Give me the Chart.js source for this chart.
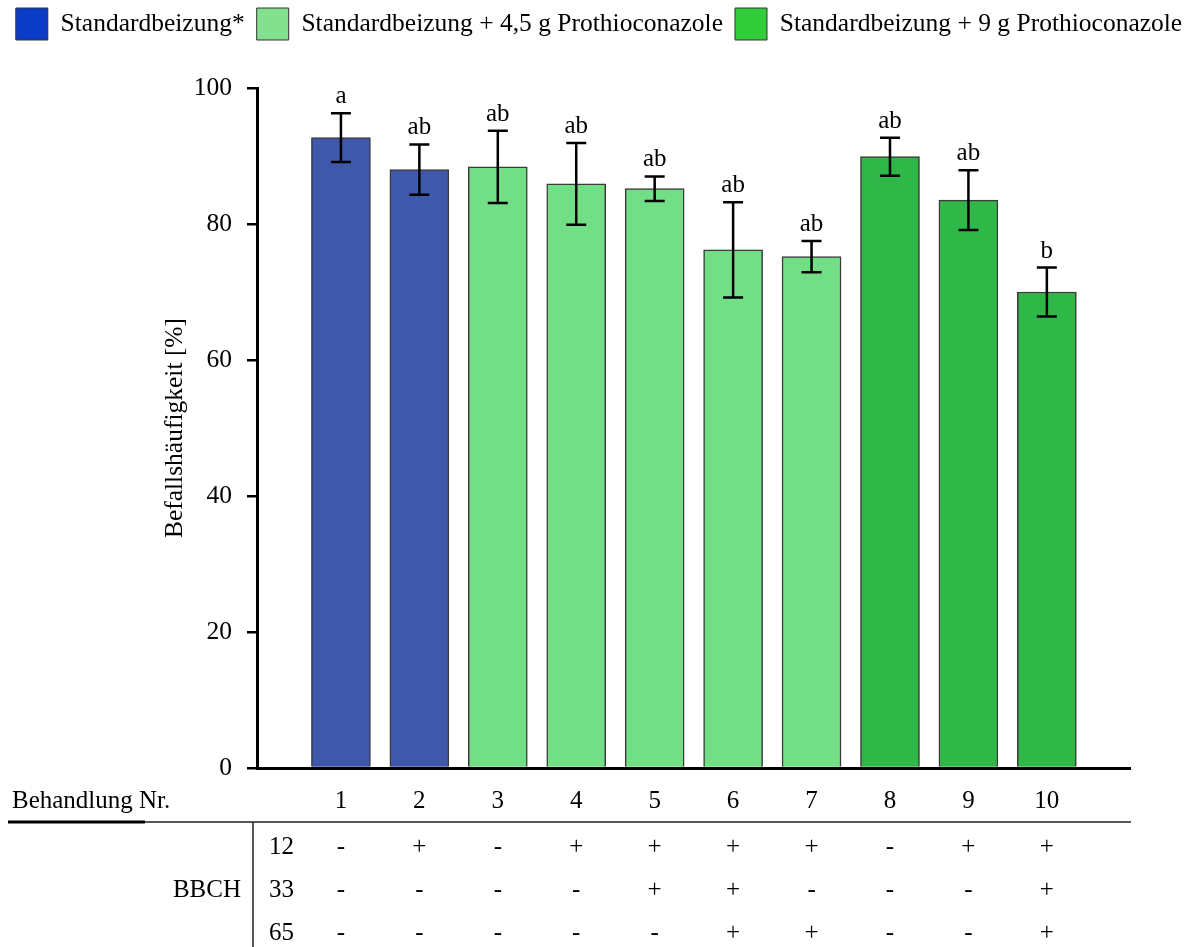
<!DOCTYPE html>
<html>
<head>
<meta charset="utf-8">
<script src="https://cdn.jsdelivr.net/npm/chart.js@4.4.0/dist/chart.umd.min.js"></script>
<style>
    html, body { margin: 0; padding: 0; background: #fff; }
    #wrap { width: 1198px; height: 947px; }
</style>
</head>
<body>
<div id="wrap"><canvas id="chart"></canvas></div>
<script>
// Data
const treatments = [1, 2, 3, 4, 5, 6, 7, 8, 9, 10];
const groupNames = ['Standardbeizung*', 'Standardbeizung + 4,5 g Prothioconazole', 'Standardbeizung + 9 g Prothioconazole'];
const groupOf = [0, 0, 1, 1, 1, 1, 1, 2, 2, 2];
const means = [92.7, 88.0, 88.4, 85.9, 85.2, 76.2, 75.2, 89.9, 83.5, 70.0];
const errors = [3.6, 3.7, 5.3, 6.0, 1.8, 7.0, 2.3, 2.8, 4.4, 3.6];
const letters = ['a', 'ab', 'ab', 'ab', 'ab', 'ab', 'ab', 'ab', 'ab', 'b'];
const yTicks = [0, 20, 40, 60, 80, 100];
const bbchStages = ['12', '33', '65'];
const bbch12 = ['-', '+', '-', '+', '+', '+', '+', '-', '+', '+'];
const bbch33 = ['-', '-', '-', '-', '+', '+', '-', '-', '-', '+'];
const bbch65 = ['-', '-', '-', '-', '-', '+', '+', '-', '-', '+'];
const bbchRows = [bbch12, bbch33, bbch65];

const barColors = ['#3f58aa', '#72de86', '#2fb848'];
const legendColors = ['#0a3cc8', '#82e08e', '#33cc3a'];
const FONT = "'Liberation Serif', 'Times New Roman', serif";

// error bars, letters and the treatment table underneath
const extrasPlugin = {
    id: 'extras',
    afterDatasetsDraw(chart) {
        const ctx = chart.ctx;
        const x = chart.scales.x;
        const y = chart.scales.y;
        ctx.save();
        ctx.strokeStyle = '#000';
        ctx.lineWidth = 2.5;
        ctx.fillStyle = '#000';
        ctx.font = '25px ' + FONT;
        ctx.textAlign = 'center';
        ctx.textBaseline = 'alphabetic';
        treatments.forEach((t, i) => {
            const px = x.getPixelForValue(t);
            const top = y.getPixelForValue(means[i] + errors[i]);
            const bot = y.getPixelForValue(means[i] - errors[i]);
            ctx.beginPath();
            ctx.moveTo(px, top); ctx.lineTo(px, bot);
            ctx.moveTo(px - 10, top); ctx.lineTo(px + 10, top);
            ctx.moveTo(px - 10, bot); ctx.lineTo(px + 10, bot);
            ctx.stroke();
            ctx.fillText(letters[i], px, top - 10);
        });
        ctx.restore();
    },
    afterDraw(chart) {
        const ctx = chart.ctx;
        const x = chart.scales.x;
        const tableRight = x.right + 1;
        ctx.save();
        ctx.fillStyle = '#000';
        ctx.font = '25px ' + FONT;
        ctx.textBaseline = 'middle';

        ctx.textAlign = 'left';
        ctx.fillText('Behandlung Nr.', 12, 801);
        ctx.textAlign = 'center';
        treatments.forEach(t => ctx.fillText(String(t), x.getPixelForValue(t), 801));

        // rules
        ctx.strokeStyle = '#222';
        ctx.lineWidth = 1.5;
        ctx.beginPath();
        ctx.moveTo(8, 822); ctx.lineTo(tableRight, 822);
        ctx.moveTo(253, 822); ctx.lineTo(253, 947);
        ctx.stroke();
        ctx.lineWidth = 3;
        ctx.strokeStyle = '#000';
        ctx.beginPath();
        ctx.moveTo(8, 822); ctx.lineTo(145, 822);
        ctx.stroke();

        const rowY = [847, 890, 933];
        ctx.textAlign = 'right';
        ctx.fillText('BBCH', 241, rowY[1]);
        bbchStages.forEach((s, r) => {
            ctx.textAlign = 'left';
            ctx.fillText(s, 269, rowY[r]);
            ctx.textAlign = 'center';
            bbchRows[r].forEach((sign, i) => {
                ctx.fillText(sign, x.getPixelForValue(treatments[i]), rowY[r]);
            });
        });
        ctx.restore();
    }
};

const datasets = groupNames.map((name, g) => ({
    label: name,
    data: treatments
        .map((t, i) => groupOf[i] === g ? { x: t, y: means[i] } : null)
        .filter(p => p !== null),
    backgroundColor: barColors[g],
    borderColor: '#3a3a3a',
    borderWidth: 1.5,
    barThickness: 59
}));

new Chart(document.getElementById('chart'), {
    type: 'bar',
    data: { datasets },
    plugins: [extrasPlugin],
    options: {
        responsive: true,
        maintainAspectRatio: false,
        animation: false,
        devicePixelRatio: 1,
        layout: { padding: { top: -4, left: 0, right: 0, bottom: 0 } },
        plugins: {
            tooltip: { enabled: false },
            legend: {
                position: 'top',
                align: 'center',
                labels: {
                    boxWidth: 32,
                    boxHeight: 32,
                    padding: 12,
                    color: '#000',
                    font: { family: FONT, size: 25.5 },
                    generateLabels: () => groupNames.map((name, g) => ({
                        text: name,
                        fillStyle: legendColors[g],
                        strokeStyle: '#333',
                        lineWidth: 1,
                        datasetIndex: g
                    }))
                }
            },
            // empty title used only as a gap between legend and plot
            title: {
                display: true,
                text: '',
                weight: 500,
                font: { size: 10, lineHeight: 1 },
                padding: { top: 28, bottom: 0 }
            }
        },
        scales: {
            x: {
                type: 'linear',
                stacked: true,
                offset: false,
                min: -0.07,
                max: 11.06,
                ticks: { display: false },
                grid: { display: false },
                border: { display: true, color: '#000', width: 3 },
                afterFit: s => { s.height = 947 - 768; }
            },
            y: {
                min: 0,
                max: 100,
                afterBuildTicks: s => { s.ticks = yTicks.map(v => ({ value: v })); },
                ticks: {
                    color: '#000',
                    padding: 15,
                    font: { family: FONT, size: 25.5 }
                },
                grid: {
                    display: true,
                    drawOnChartArea: false,
                    drawTicks: true,
                    tickLength: 10,
                    color: '#000',
                    lineWidth: 2.5
                },
                border: { display: true, color: '#000', width: 3 },
                title: {
                    display: true,
                    text: 'Befallshäufigkeit [%]',
                    color: '#000',
                    font: { family: FONT, size: 25.5 },
                    padding: { top: 160, bottom: 0 }
                },
                afterFit: s => { s.width = 257; }
            },
            yRight: {
                position: 'right',
                display: true,
                ticks: { display: false },
                grid: { display: false },
                border: { display: false },
                afterFit: s => { s.width = 1198 - 1130; }
            }
        }
    }
});
</script>
</body>
</html>
